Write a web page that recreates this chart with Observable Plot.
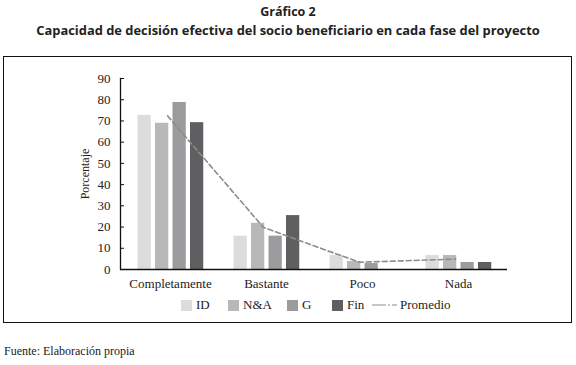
<!DOCTYPE html>
<html><head><meta charset="utf-8">
<script src="https://cdn.jsdelivr.net/npm/d3@7"></script>
<script src="https://cdn.jsdelivr.net/npm/@observablehq/plot@0.6"></script>
<style>
body{margin:0;background:#fff;}
#wrap{position:relative;width:576px;height:365px;overflow:hidden;font-family:"Liberation Serif","DejaVu Serif",serif;color:#222;}
.t{position:absolute;left:0;width:576px;text-align:center;font-family:"Open Sans","Noto Sans",sans-serif;font-weight:bold;font-size:12.5px;color:#222;}
#box{position:absolute;left:3px;top:56px;width:567px;height:265px;border:1.5px solid #111;}
#chart{position:absolute;left:0;top:0;}
#legend{position:absolute;top:297px;left:0;width:576px;height:18px;font-size:13px;}
.li{position:absolute;top:0;display:flex;align-items:center;height:16px;}
.sw{width:11px;height:11px;margin-right:4px;}
#src{position:absolute;left:4px;top:344px;font-size:12px;}
</style></head>
<body><div id="wrap">
<div class="t" style="top:3px">Gráfico 2</div>
<div class="t" style="top:21px;font-size:12.9px">Capacidad de decisión efectiva del socio beneficiario en cada fase del proyecto</div>
<div id="box"></div>
<div id="chart"></div>
<div id="legend"></div>
<div id="src">Fuente: Elaboración propia</div>
</div>
<script>
const categorias = ["Completamente", "Bastante", "Poco", "Nada"];
const series = ["ID", "N&A", "G", "Fin"];
const valoresID = [72.6, 15.7, 6.6, 6.6];
const valoresNA = [68.9, 21.8, 3.8, 6.6];
const valoresG = [78.7, 15.7, 2.8, 3.3];
const valoresFin = [69.2, 25.4, 0, 3.3];
const promedio = [72.4, 19.8, 3.4, 4.9];
const yTicks = [0, 10, 20, 30, 40, 50, 60, 70, 80, 90];
const colores = ["#dcdcdd", "#b8b8ba", "#9b9b9d", "#5f5f61"];

const valores = [valoresID, valoresNA, valoresG, valoresFin];
const W = 576, H = 300, ML = 120, MR = 69, MT = 78, MB = 31;
const band = (W - ML - MR) / categorias.length;
const barW = 14, off0 = 15.5, step = 17.5;

const barMarks = series.map((s, j) => {
  const data = categorias.map((c, i) => ({cat: c, serie: s, v: valores[j][i]}));
  const left = off0 + j * step;
  return Plot.barY(data, {x: "cat", y: "v", fill: colores[j],
    insetLeft: left, insetRight: band - left - barW});
});
const lineData = categorias.map((c, i) => ({cat: c, v: promedio[i]}));

const plot = Plot.plot({
  width: W, height: H,
  marginLeft: ML, marginRight: MR, marginTop: MT, marginBottom: MB,
  style: {fontFamily: "'Liberation Serif', 'DejaVu Serif', serif", fontSize: "13px", color: "#222", background: "transparent"},
  x: {domain: categorias, padding: 0, tickSize: 0, tickPadding: 9, label: null},
  y: {domain: [0, 90]},
  marks: [
    Plot.axisY({ticks: yTicks, tickSize: 0, tickPadding: 10, label: null}),
    Plot.axisY({ticks: yTicks, tickSize: 4, tickFormat: () => "", dx: 4, label: null, stroke: "#111"}),
    Plot.axisY({ticks: [], label: "Porcentaje", labelAnchor: "center", labelOffset: 40, labelArrow: false, fontSize: 12}),
    ...barMarks,
    Plot.lineY(lineData, {x: "cat", y: "v", stroke: "#8c8c8c", strokeWidth: 1.6, strokeDasharray: "5,3", dx: -3}),
    Plot.frame({anchor: "left", stroke: "#111", strokeWidth: 1.3}),
    Plot.ruleY([0], {stroke: "#111", strokeWidth: 1.3})
  ]
});
document.getElementById("chart").appendChild(plot);

// legend
const leg = document.getElementById("legend");
const items = [
  {label: "ID", color: colores[0], x: 181},
  {label: "N&A", color: colores[1], x: 228},
  {label: "G", color: colores[2], x: 287},
  {label: "Fin", color: colores[3], x: 332}
];
items.forEach(it => {
  const d = document.createElement("div");
  d.className = "li"; d.style.left = it.x + "px";
  d.innerHTML = `<span class="sw" style="background:${it.color}"></span><span>${it.label}</span>`;
  leg.appendChild(d);
});
const dl = document.createElement("div");
dl.className = "li"; dl.style.left = "372px";
dl.innerHTML = `<svg width="25" height="4" style="margin-right:3px"><line x1="0" y1="2" x2="25" y2="2" stroke="#8c8c8c" stroke-width="1" stroke-dasharray="14,2,2,2"/></svg><span>Promedio</span>`;
leg.appendChild(dl);
</script>
</body></html>
